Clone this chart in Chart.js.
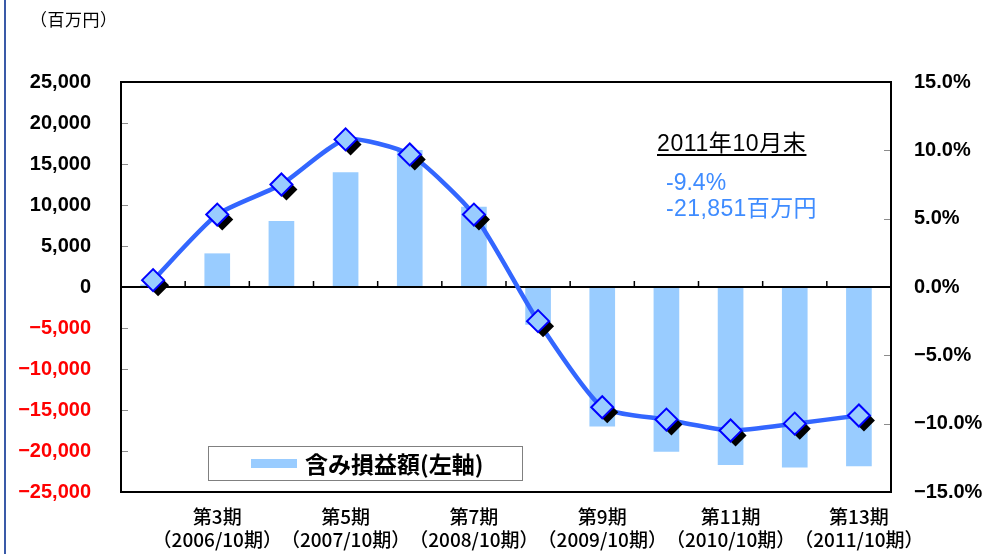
<!DOCTYPE html>
<html lang="ja">
<head>
<meta charset="utf-8">
<title>含み損益額</title>
<script src="https://cdn.jsdelivr.net/npm/chart.js@4.4.1/dist/chart.umd.min.js"></script>
<style>
  html, body { margin: 0; padding: 0; background: #fff; }
  #wrap { position: relative; width: 982px; height: 554px; overflow: hidden; }
  #wrap canvas { position: absolute; left: 0; top: 0; }
  .txt { position: absolute; white-space: nowrap; line-height: 1; font-family: "Liberation Sans", "Noto Sans CJK JP", sans-serif; }
  #frameLine { position: absolute; left: 4px; top: 0; width: 2px; height: 554px; background: #3a5aa8; }
</style>
</head>
<body>
<div id="wrap">
  <canvas id="chart" width="982" height="554"></canvas>
  <div id="frameLine"></div>
  <div class="txt" style="left:30px; top:10px; font-size:17px; letter-spacing:0.5px; font-family:'Noto Sans CJK JP',sans-serif;">（百万円）</div>
  <div class="txt" style="left:657px; top:132px; font-size:23px; letter-spacing:0.6px; color:#000; text-decoration:underline; text-decoration-thickness:2px; text-underline-offset:3px;">2011年10月末</div>
  <div class="txt" style="left:666px; top:171px; font-size:23px; color:#3f8cff;">-9.4%</div>
  <div class="txt" style="left:666px; top:197px; font-size:23px; letter-spacing:0.4px; color:#3f8cff;">-21,851百万円</div>
</div>
<script>
// 期ごとのデータ
const periods = ['第2期', '第3期', '第4期', '第5期', '第6期', '第7期', '第8期', '第9期', '第10期', '第11期', '第12期', '第13期'];
const periodDates = ['（2006/4期）', '（2006/10期）', '（2007/4期）', '（2007/10期）', '（2008/4期）', '（2008/10期）',
                     '（2009/4期）', '（2009/10期）', '（2010/4期）', '（2010/10期）', '（2011/4期）', '（2011/10期）'];
// 含み損益額（百万円）
const gainLoss = [300, 4100, 8050, 14000, 16700, 9800, -4600, -17000, -20100, -21700, -22000, -21851];
// 含み損益率（%）
const gainLossRate = [0.5, 5.3, 7.5, 10.8, 9.7, 5.3, -2.5, -8.8, -9.7, -10.5, -10.0, -9.4];

const leftMin = -25000, leftMax = 25000, leftStep = 5000;
const rightMin = -15, rightMax = 15, rightStep = 5;

const BAR_COLOR = '#99ccff';
const LINE_COLOR = '#3366ff';

const fmtLeft = v => (v < 0 ? '\u2212' : '') + Math.abs(v).toLocaleString('en-US');
const fmtRight = v => (v < 0 ? '\u2212' : '') + Math.abs(v).toFixed(1) + '%';

// 枠・ゼロ線・目盛り線、マーカーの影、凡例
const framePlugin = {
    id: 'frame',
    afterDatasetDraw(chart, args) {
        if (args.meta.type !== 'bar') return;
        const { ctx, chartArea: a, scales } = chart;
        const y0 = scales.y.getPixelForValue(0);
        ctx.save();
        // 左右の内向き目盛り
        ctx.strokeStyle = '#8c8c8c';
        ctx.lineWidth = 1;
        scales.y.ticks.forEach(t => {
            const py = Math.round(scales.y.getPixelForValue(t.value)) + 0.5;
            ctx.beginPath(); ctx.moveTo(a.left, py); ctx.lineTo(a.left + 7, py); ctx.stroke();
        });
        scales.y1.ticks.forEach(t => {
            const py = Math.round(scales.y1.getPixelForValue(t.value)) + 0.5;
            ctx.beginPath(); ctx.moveTo(a.right - 7, py); ctx.lineTo(a.right, py); ctx.stroke();
        });
        // ゼロ線
        ctx.strokeStyle = '#000';
        ctx.lineWidth = 2;
        ctx.beginPath(); ctx.moveTo(a.left, y0); ctx.lineTo(a.right, y0); ctx.stroke();
        // 項目の区切り目盛り
        ctx.lineWidth = 1.5;
        for (let i = 1; i < periods.length; i++) {
            const px = (scales.x.getPixelForValue(i - 1) + scales.x.getPixelForValue(i)) / 2;
            ctx.beginPath(); ctx.moveTo(px, y0); ctx.lineTo(px, y0 - 6); ctx.stroke();
        }
        // 外枠
        ctx.lineWidth = 2;
        ctx.strokeRect(a.left, a.top, a.right - a.left, a.bottom - a.top);
        ctx.restore();
    },
    beforeDatasetDraw(chart, args) {
        // マーカーの影（右下にずらした黒いひし形）
        if (args.index !== 2) return;
        const ctx = chart.ctx;
        ctx.save();
        ctx.fillStyle = '#000';
        args.meta.data.forEach(pt => {
            const r = pt.options.radius;
            const x = pt.x + 5, y = pt.y + 5;
            ctx.beginPath();
            ctx.moveTo(x, y - r);
            ctx.lineTo(x + r, y);
            ctx.lineTo(x, y + r);
            ctx.lineTo(x - r, y);
            ctx.closePath();
            ctx.fill();
        });
        ctx.restore();
    },
    afterDraw(chart) {
        // 凡例（グラフ内）
        const { ctx, chartArea: a } = chart;
        const ds = chart.data.datasets[0];
        const bx = a.left + 87, by = a.bottom - 46, bw = 314, bh = 34;
        ctx.save();
        ctx.fillStyle = '#fff';
        ctx.fillRect(bx, by, bw, bh);
        ctx.strokeStyle = '#808080';
        ctx.lineWidth = 1;
        ctx.strokeRect(bx + 0.5, by + 0.5, bw, bh);
        ctx.fillStyle = ds.backgroundColor;
        ctx.fillRect(bx + 43, by + 13, 46, 9);
        ctx.fillStyle = '#000';
        ctx.font = 'bold 23px "Noto Sans CJK JP", sans-serif';
        ctx.textBaseline = 'middle';
        ctx.fillText(ds.label, bx + 97, by + 18);
        ctx.restore();
    }
};

new Chart(document.getElementById('chart'), {
    type: 'bar',
    data: {
        labels: periods,
        datasets: [
            {
                type: 'bar',
                label: '含み損益額(左軸)',
                data: gainLoss,
                yAxisID: 'y',
                backgroundColor: BAR_COLOR,
                barPercentage: 0.4,
                categoryPercentage: 1,
                order: 3
            },
            {
                type: 'line',
                label: '含み損益率(右軸)',
                data: gainLossRate,
                yAxisID: 'y1',
                borderColor: LINE_COLOR,
                borderWidth: 4.5,
                tension: 0.2,
                pointRadius: 0,
                fill: false,
                order: 2
            },
            {
                type: 'line',
                label: 'マーカー',
                data: gainLossRate,
                yAxisID: 'y1',
                showLine: false,
                pointStyle: 'rectRot',
                pointRadius: 11,
                pointBackgroundColor: BAR_COLOR,
                pointBorderColor: '#0000ff',
                pointBorderWidth: 2,
                order: 1
            }
        ]
    },
    options: {
        responsive: false,
        animation: false,
        layout: { padding: { top: 82, left: 0, right: 0, bottom: 0 } },
        plugins: {
            legend: { display: false },
            tooltip: { enabled: false }
        },
        scales: {
            x: {
                offset: true,
                grid: { display: false, drawTicks: false },
                border: { display: false },
                afterFit: s => { s.height = 62; },
                ticks: {
                    autoSkip: false,
                    maxRotation: 0,
                    padding: 14,
                    color: '#000',
                    font: { family: '"Noto Sans CJK JP", sans-serif', size: 19, lineHeight: 1.18, weight: 500 },
                    callback: (v, i) => (i % 2 === 1 ? [periods[i], periodDates[i]] : '')
                }
            },
            y: {
                position: 'left',
                min: leftMin,
                max: leftMax,
                grid: { display: false, drawTicks: false },
                border: { display: false },
                afterFit: s => { s.width = 121; },
                ticks: {
                    stepSize: leftStep,
                    padding: 30,
                    font: { family: '"Liberation Sans", sans-serif', size: 20, weight: 'bold' },
                    color: c => (c.tick && c.tick.value < 0 ? '#ff0000' : '#000'),
                    callback: v => fmtLeft(v)
                }
            },
            y1: {
                position: 'right',
                min: rightMin,
                max: rightMax,
                grid: { display: false, drawTicks: false },
                border: { display: false },
                afterFit: s => { s.width = 91; },
                ticks: {
                    stepSize: rightStep,
                    padding: 23,
                    color: '#000',
                    font: { family: '"Liberation Sans", sans-serif', size: 20, weight: 'bold' },
                    callback: v => fmtRight(v)
                }
            }
        }
    },
    plugins: [framePlugin]
});
</script>
</body>
</html>
